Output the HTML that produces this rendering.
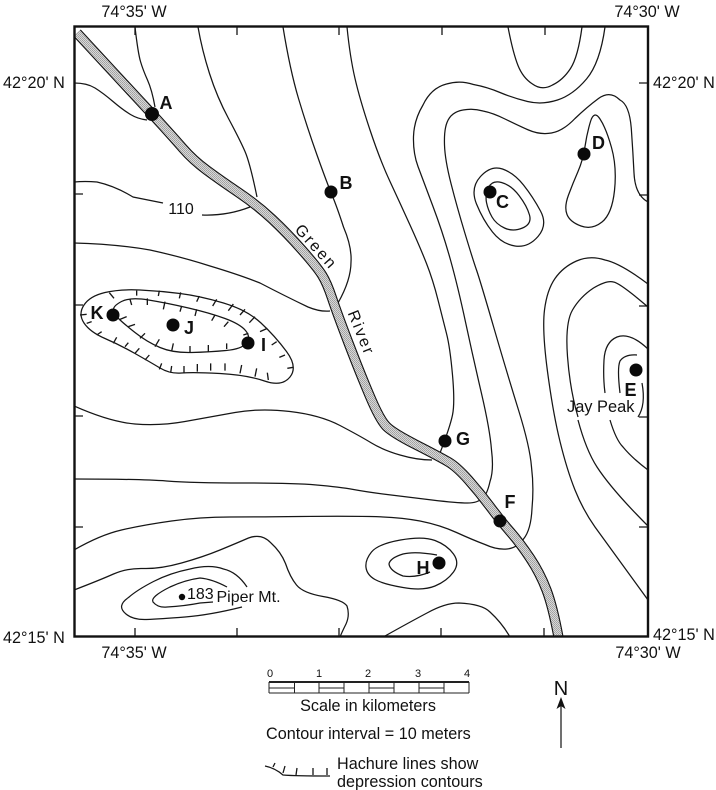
<!DOCTYPE html>
<html><head><meta charset="utf-8"><title>Topographic map</title>
<style>
html,body{margin:0;padding:0;background:#fff;width:716px;height:790px;overflow:hidden}
svg{display:block}
text{font-family:"Liberation Sans",Arial,sans-serif;fill:#111}
.c{fill:none;stroke:#161616;stroke-width:1.25}
.t{stroke:#161616;stroke-width:1.3;fill:none}
.l{font-weight:bold;font-size:18px;text-anchor:middle}
.g{font-size:16.2px}
.m{font-size:16px}
.s{font-size:16.2px}
</style></head><body>
<svg xmlns="http://www.w3.org/2000/svg" width="716" height="790" viewBox="0 0 716 790">
<defs>
<pattern id="h" width="2" height="2" patternUnits="userSpaceOnUse"><rect width="2" height="2" fill="#d8d8d8"/><rect width="1" height="1" fill="#a0a0a0"/><rect x="1" y="1" width="1" height="1" fill="#a8a8a8"/></pattern>
<clipPath id="f"><rect x="74" y="26" width="574" height="611"/></clipPath>
</defs>
<g clip-path="url(#f)">
<path class="c" d="M135,27 Q138,53 140.5,61.5 Q143,70 147.5,80 Q152,90 155,107"/>
<path class="c" d="M74,83 Q87,83 95,88 Q103,93 113,101.5 Q123,110 130.5,114.5 Q138,119 147,120"/>
<path class="c" d="M198,27 Q202,50 209.5,73.5 Q217,97 228.5,118.5 Q240,140 245,151.5 Q250,163 257,197"/>
<path class="c" d="M283,27 Q290,70 298.5,98.5 Q307,127 317,155 Q327,183 332,195 Q337,207 343.5,227 Q352,247 351,262 Q351,280 338,303"/>
<path class="c" d="M347,27 Q350,57 355,78.5 Q360,100 370,130 Q380,160 390,181.5 Q400,203 410,225 Q420,247 426.5,263.5 Q433,280 438,300 Q443,320 446.5,333.5 Q450,347 452.5,375 Q455,403 452.5,415 Q450,427 440,453"/>
<path class="c" d="M605,27 Q600,63 586.5,79 Q573,95 557.5,100 Q542,105 527.5,101.5 Q513,98 500,92.5 Q487,87 473.5,84.5 Q460,80 446.5,84 Q431,88 423,105 Q414,120 413.5,136.5 Q413,153 418,166.5 Q423,180 433,206.5 Q443,233 450.5,260 Q458,287 465.5,322 Q473,357 481.5,393.5 Q490,430 491.5,450 Q494,470 490,481.5 Q487,495 482.5,498 Q478,503 467.5,503 Q457,503 432,500 Q407,497 387,494.5 Q367,492 353.5,489.5 Q340,487 316.5,485 Q293,483 243,483 Q193,483 166.5,481 Q140,479 74,479"/>
<path class="c" d="M648,202 Q635,195 634,173 Q633,153 631.5,131.5 Q630,105 620,100 Q610,90 598.5,98.5 Q587,107 575,118.5 Q563,131 551.5,133 Q540,135 528.5,130 Q517,125 505,119 Q493,113 483,111 Q473,108 463,110 Q451,112 447,122.5 Q444,130 444.5,145 Q445,160 451,183.5 Q457,207 465,233.5 Q473,260 476.5,270 Q480,280 493.5,326.5 Q507,373 518.5,410 Q530,447 531.5,467 Q534,487 532,508.5 Q531,530 523.5,539 Q517,548 507,549 Q497,550 485,544.5 Q473,540 456.5,532.5 Q440,525 420,521 Q400,517 370,516.5 Q340,516 300,516.5 Q260,517 230,517 Q200,517 171.5,521 Q143,525 121.5,530 Q100,535 74,550"/>
<path class="c" d="M508,27 Q513,53 518,65.5 Q523,78 532.5,84 Q542,91 552.5,85 Q563,80 570.5,68.5 Q578,57 582,27"/>
<path class="c" d="M476.5,204 Q470,188 480.5,176.5 Q491,165 502.5,169 Q514,173 523.5,185 Q533,197 540.5,211 Q548,225 538,236.5 Q528,248 515,246 Q502,244 492.5,232 Q483,220 476.5,204Z"/>
<path class="c" d="M486.5,202.5 Q485,195 488.5,187.5 Q492,180 501.5,182.5 Q511,185 519,195.5 Q527,206 529.5,215 Q532,224 522.5,228 Q513,232 504.5,228 Q496,224 492,217 Q488,210 486.5,202.5Z"/>
<path class="c" d="M585,146.5 Q587,133 590.5,121.5 Q594,110 600,119 Q606,128 611.5,147.5 Q617,167 614.5,190.5 Q612,214 602,222 Q592,230 581,226 Q570,222 567,214.5 Q564,207 568.5,195 Q573,183 578,171.5 Q583,160 585,146.5Z"/>
<path class="c" d="M648,284 Q620,263 605,260 Q590,255 576.5,261 Q563,267 555,278.5 Q547,290 544.5,310 Q542,330 547.5,371.5 Q553,413 560,441.5 Q567,470 575,490 Q583,510 595,527 L648,600"/>
<path class="c" d="M648,307 Q620,283 613.5,282 Q607,280 593.5,288 Q580,297 572.5,310 Q565,323 567.5,356.5 Q570,390 578,417"/>
<path class="c" d="M578,420 Q586,450 597,467 Q612,490 648,526"/>
<path class="c" d="M648,349 Q630,332 617,337 Q605,342 604,360 Q603,378 605,393"/>
<path class="c" d="M610,420 Q616,440 623,447 Q632,458 648,470"/>
<path class="c" d="M637,355 Q625,354 620,361 Q617,368 620,393"/>
<path class="c" d="M642,383 Q646,405 638,417"/>
<path class="c" d="M366,567.5 Q365,560 371.5,552 Q378,544 400.5,540 Q423,536 435,540.5 Q447,545 453.5,554 Q460,563 453.5,572 Q447,581 435,586 Q423,591 403,587.5 Q383,584 375,579.5 Q367,575 366,567.5Z"/>
<path class="c" d="M437,555 Q415,551 403,554 Q390,558 389,564 Q390,571 403,576 Q416,578 430,572"/>
<path class="c" d="M385,636 Q410,622 427,613 Q445,603 459,603 Q482,604 490,612 Q502,623 510,637"/>
<path class="c" d="M74,590 Q100,580 113.5,574 Q127,568 143.5,568.5 Q160,569 181.5,563 Q203,557 220,550 Q237,543 248.5,538 Q262,533 271,543 Q281,552 285.5,563.5 Q290,577 296.5,585 Q303,593 323,596.5 Q343,600 347,606 Q350,615 346,624 Q342,632 340,637"/>
<path class="c" d="M247,587 Q237,572 223.5,569 Q210,564 190,569 Q170,573 153.5,581.5 Q137,590 128.5,597.5 Q116,606 126,614 Q133,620 146.5,619.5 Q160,619 185,617 Q210,615 242,607"/>
<path class="c" d="M227,587 Q212,579 200,578 Q185,580 170,587 Q150,597 153,602 Q158,608 167,607 Q185,606 200,603 L213,602"/>
<path class="c" d="M74,406 Q110,422 135,424 Q160,426 185,421.5 Q210,417 235,412.5 Q260,408 290,411.5 Q320,415 340,425.5 Q360,436 371.5,443 Q383,450 400,455 Q417,460 432,460"/>
<path class="c" d="M74,243 Q115,244 150,250 Q182,257 210,266 Q240,275 260,283 Q285,296 308,307 Q320,312 330,311"/>
<path class="c" d="M74,182 Q85,181 97,182 Q115,186 133,197 Q148,200 163,203"/>
<path class="c" d="M202,215 Q227,216 250,207"/>
<path class="c" d="M84,323 Q78,314 84,305 Q90,296 105,292.5 Q120,289 140,290 Q160,291 180,293.5 Q200,296 223.5,303 Q247,310 261,323 Q275,336 286.5,351.5 Q298,367 290,377 Q282,387 264.5,381 Q247,375 220,373.5 Q193,372 181.5,373 Q170,374 160,368 Q150,362 135,353.5 Q120,345 105,338.5 Q90,332 84,323Z"/>
<path class="c" d="M113.5,310 Q113,306 121.5,301.5 Q130,297 148.5,300 Q167,303 188.5,308 Q210,313 225,318.5 Q240,324 245.5,330.5 Q251,337 246.5,343 Q242,349 226,350.5 Q210,352 191.5,352.5 Q173,353 160,347.5 Q147,342 135,332.5 Q123,323 118.5,318.5 Q114,314 113.5,310Z"/>
<path d="M77,33 L152,114 Q173,137 183,148.5 Q193,160 206.5,170 Q220,180 238.5,192.5 Q257,205 272,219 Q287,233 302,250 Q317,267 322,275 Q327,283 332,298 Q337,313 348.5,343 Q360,373 370,396.5 Q380,420 386.5,426.5 Q393,433 416.5,445 Q440,457 448.5,462 Q457,467 468.5,480 Q480,493 490,506.5 Q500,520 510,531.5 Q520,543 530,558 Q540,573 546.5,590 Q553,607 559,640" class="c" style="stroke:#111;stroke-width:10.2;stroke-linecap:butt"/>
<path d="M77,33 L152,114 Q173,137 183,148.5 Q193,160 206.5,170 Q220,180 238.5,192.5 Q257,205 272,219 Q287,233 302,250 Q317,267 322,275 Q327,283 332,298 Q337,313 348.5,343 Q360,373 370,396.5 Q380,420 386.5,426.5 Q393,433 416.5,445 Q440,457 448.5,462 Q457,467 468.5,480 Q480,493 490,506.5 Q500,520 510,531.5 Q520,543 530,558 Q540,573 546.5,590 Q553,607 559,640" class="c" style="stroke:url(#h);stroke-width:8;stroke-linecap:butt"/>
<g transform="translate(60,280) scale(.33333)" style="stroke:#161616;stroke-width:4;fill:none">
<path d="M148,38L162,55M230,32L230,47M298,32L295,48M362,37L358,55M418,48L410,65M470,58L458,78M520,72L505,92M555,88L540,105M585,110L568,128M622,145L600,155M650,185L635,195M675,225L658,232M700,262L682,265M625,300L622,278M585,290L590,265M540,280L545,255M495,272L495,250M452,272L452,250M412,275L412,252M372,278L372,258M332,278L335,258M298,268L305,250M255,240L268,225M225,220L238,205M195,200L205,188M160,190L170,172M110,165L125,155M80,130L95,125M60,105L80,103"/>
<path d="M210,58L215,75M262,55L262,75M315,65L310,88M365,78L360,95M410,88L405,108M465,105L455,122M505,125L492,140M180,118L200,110M205,140L225,133M240,175L255,160M285,200L298,178M335,213L340,190M390,218L390,198M445,215L445,195M500,207L500,190M550,165L565,160"/>
</g>
</g>
<rect x="74.5" y="26.5" width="573.5" height="610" fill="none" stroke="#111" stroke-width="2.4"/>
<path class="t" d="M135,27V35M237,27V35M339,27V35M442,27V35M545,27V35M135,636V628M237,636V628M339,636V628M441,636V628M544,636V628M75,194H83M75,305H83M75,416H83M75,527H83M647,83H639M647,195H639M647,306H639M647,417H639M647,527H639"/>
<g fill="#0a0a0a">
<circle cx="152" cy="114" r="7"/><circle cx="331" cy="192" r="6.5"/><circle cx="490" cy="192" r="6.5"/><circle cx="584" cy="154" r="6.5"/><circle cx="636" cy="370" r="6.5"/><circle cx="500" cy="521" r="6.5"/><circle cx="445" cy="441" r="6.5"/><circle cx="439" cy="563" r="6.5"/><circle cx="248" cy="343" r="6.5"/><circle cx="173" cy="325" r="6.5"/><circle cx="113" cy="315" r="6.5"/><circle cx="182" cy="597" r="3.2"/>
</g>
<text class="l" x="166" y="109">A</text>
<text class="l" x="346" y="189">B</text>
<text class="l" x="502.5" y="208">C</text>
<text class="l" x="598.5" y="149">D</text>
<text class="l" x="630.5" y="396">E</text>
<text class="l" x="510" y="508">F</text>
<text class="l" x="463" y="445">G</text>
<text class="l" x="423" y="574">H</text>
<text class="l" x="263.5" y="351">I</text>
<text class="l" x="189" y="334">J</text>
<text class="l" x="97" y="319">K</text>
<text class="m" x="181" y="214" text-anchor="middle">110</text>
<text class="m" x="187" y="599">183</text>
<text class="m" x="216.5" y="602">Piper Mt.</text>
<text class="m" x="567" y="412" style="font-size:16.4px">Jay Peak</text>
<text class="m" transform="translate(316,247) rotate(48)" text-anchor="middle" letter-spacing="2" y="5">Green</text>
<text class="m" transform="translate(361,333) rotate(68)" text-anchor="middle" letter-spacing="2" y="5">River</text>
<text class="g" x="134" y="17" text-anchor="middle">74°35' W</text>
<text class="g" x="647" y="17" text-anchor="middle">74°30' W</text>
<text class="g" x="134" y="658" text-anchor="middle">74°35' W</text>
<text class="g" x="648" y="658" text-anchor="middle">74°30' W</text>
<text class="g" x="3" y="88">42°20' N</text>
<text class="g" x="653" y="88">42°20' N</text>
<text class="g" x="3" y="643">42°15' N</text>
<text class="g" x="653" y="640">42°15' N</text>
<path d="M269,682H469" stroke="#222" stroke-width="2" fill="none"/>
<path d="M269,693H469M269,688H295M319,688H344M369,688H394M419,688H444M269,682V693M294.5,682V693M319,682V693M344,682V693M369,682V693M394,682V693M419,682V693M444,682V693M469,682V693" stroke="#222" stroke-width="1" fill="none"/>
<g font-size="11" text-anchor="middle"><text x="270" y="677">0</text><text x="319" y="677">1</text><text x="368" y="677">2</text><text x="418" y="677">3</text><text x="467" y="677">4</text></g>
<text class="s" x="368" y="711" text-anchor="middle">Scale in kilometers</text>
<text class="s" x="266" y="739">Contour interval = 10 meters</text>
<text class="s" x="337" y="769">Hachure lines show</text>
<text class="s" x="337" y="787">depression contours</text>
<path class="t" d="M265,766 Q275,768 283,775 Q295,776 330,776M275,763L273,767M285,766L283,773M297,768L296,775M313,768L313,775M327,768L327,775"/>
<text x="561" y="695" font-size="20" text-anchor="middle">N</text>
<path d="M561,748V704" stroke="#111" stroke-width="1.2" fill="none"/>
<path d="M561,697L565.5,709L561,706L556.5,709Z" fill="#111"/>
</svg>
</body></html>
